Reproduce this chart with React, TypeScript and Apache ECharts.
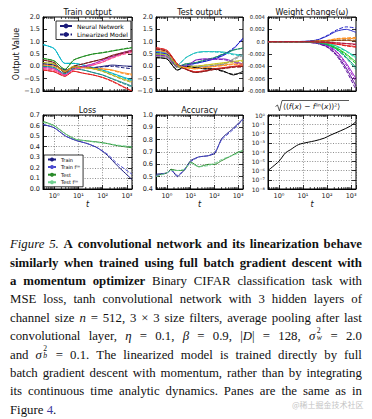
import React, { useEffect, useRef } from 'react';
import * as echarts from 'echarts';

// ---------------- data ----------------
const X_MIN = 0.35;
const X_MAX = 1600;
const X_TICK_EXP = [0, 1, 2, 3];
const X_TICK_LABELS = ['10⁰', '10¹', '10²', '10³'];
const Y_LOG_EXP = [-8, -7, -6, -5, -4, -3, -2, -1, 0];
const Y_LOG_LABELS = ['10⁻⁸', '10⁻⁷', '10⁻⁶', '10⁻⁵', '10⁻⁴', '10⁻³', '10⁻²', '10⁻¹', '10⁰'];
const MINOR_T = [0.4, 0.5, 0.6, 0.7, 0.8, 0.9, 2, 3, 4, 5, 6, 7, 8, 9, 20, 30, 40, 50, 60, 70, 80, 90, 200, 300, 400, 500, 600, 700, 800, 900];

const TITLES = ['Train output', 'Test output', 'Weight change(ω)', 'Loss', 'Accuracy'];

const T_TOP = [0.35, 1, 2.8, 6.3, 16, 40, 100, 250, 630, 1600];

const TRAIN_COLORS = ['#1a1a7a', '#00b4c8', '#1e8c1e', '#e02020', '#c030c0', '#7a1a1a', '#ff8c1a', '#b4b41e', '#1a8c8c', '#ff4a8c'];
const TRAIN_NN = [
  [0.10, 0.05, -0.15, -0.05, -0.02, -0.05, 0.00, 0.05, 0.02, 0.00],
  [0.88, 0.72, 0.12, 0.12, 0.05, -0.05, -0.15, -0.28, -0.42, -0.55],
  [0.32, 0.22, -0.12, 0.25, 0.40, 0.50, 0.55, 0.62, 0.69, 0.75],
  [-0.15, -0.22, -0.40, -0.20, -0.28, -0.35, -0.45, -0.60, -0.80, -1.00],
  [-0.05, -0.10, -0.35, -0.10, 0.00, 0.10, 0.25, 0.40, 0.55, 0.65],
  [0.25, 0.15, -0.25, 0.00, 0.10, 0.20, 0.30, 0.45, 0.55, 0.65],
  [0.05, 0.00, -0.20, -0.05, -0.05, -0.08, -0.10, -0.15, -0.25, -0.32],
  [0.15, 0.10, -0.20, 0.00, -0.05, -0.10, -0.20, -0.35, -0.50, -0.62],
  [0.00, -0.05, -0.30, -0.10, -0.15, -0.25, -0.35, -0.50, -0.65, -0.80],
  [-0.10, -0.16, -0.36, -0.14, -0.05, 0.05, 0.18, 0.35, 0.50, 0.60],
];
const TRAIN_LIN = [
  [0.10, 0.05, -0.15, -0.05, -0.02, -0.05, -0.02, 0.00, -0.05, -0.10],
  [0.88, 0.72, 0.12, 0.12, 0.05, -0.05, -0.16, -0.30, -0.45, -0.58],
  [0.32, 0.22, -0.12, 0.25, 0.40, 0.50, 0.56, 0.63, 0.70, 0.77],
  [-0.15, -0.22, -0.40, -0.20, -0.28, -0.35, -0.46, -0.62, -0.82, -1.00],
  [-0.05, -0.10, -0.35, -0.10, 0.00, 0.10, 0.24, 0.38, 0.52, 0.62],
  [0.25, 0.15, -0.25, 0.00, 0.10, 0.20, 0.29, 0.42, 0.52, 0.60],
  [0.05, 0.00, -0.20, -0.05, -0.05, -0.08, -0.11, -0.17, -0.28, -0.36],
  [0.15, 0.10, -0.20, 0.00, -0.05, -0.10, -0.21, -0.37, -0.53, -0.66],
  [0.00, -0.05, -0.30, -0.10, -0.15, -0.25, -0.36, -0.52, -0.68, -0.84],
  [-0.10, -0.16, -0.36, -0.14, -0.05, 0.05, 0.17, 0.33, 0.47, 0.56],
];

const TEST_COLORS = ['#1a1ad0', '#20c0c0', '#1a8c6a', '#000000', '#8020c0', '#e02020', '#8c1a1a', '#8c8c8c', '#c8c81e', '#ff8c1a'];
const TEST_NN = [
  [0.55, 0.50, 0.00, 0.05, 0.12, 0.20, 0.30, 0.45, 0.70, 1.15],
  [0.60, 0.55, 0.05, 0.35, 0.55, 0.60, 0.60, 0.58, 0.50, 0.45],
  [0.50, 0.45, 0.00, 0.10, 0.15, 0.25, 0.35, 0.50, 0.65, 0.75],
  [0.35, 0.30, -0.15, 0.00, -0.05, -0.10, -0.10, -0.20, -0.35, -0.20],
  [0.45, 0.40, 0.00, 0.00, 0.25, 0.30, 0.30, 0.30, 0.20, 0.10],
  [0.75, 0.65, 0.10, -0.10, -0.22, -0.18, -0.10, -0.05, 0.00, 0.05],
  [0.70, 0.60, 0.05, -0.12, -0.25, -0.20, -0.12, -0.08, -0.02, 0.00],
  [0.40, 0.35, -0.05, 0.05, 0.00, 0.00, 0.05, 0.10, 0.30, 0.50],
  [0.50, 0.45, 0.00, -0.05, 0.00, 0.05, 0.10, 0.15, 0.20, 0.25],
  [0.65, 0.55, 0.05, -0.05, -0.10, -0.05, 0.00, 0.05, 0.10, 0.10],
];
const TEST_LIN = [
  [0.55, 0.50, 0.00, 0.05, 0.12, 0.21, 0.32, 0.48, 0.74, 1.10],
  [0.60, 0.55, 0.05, 0.35, 0.54, 0.59, 0.58, 0.55, 0.47, 0.42],
  [0.50, 0.45, 0.00, 0.10, 0.15, 0.26, 0.36, 0.52, 0.67, 0.73],
  [0.35, 0.30, -0.15, 0.00, -0.05, -0.10, -0.12, -0.22, -0.32, -0.28],
  [0.45, 0.40, 0.00, 0.00, 0.24, 0.29, 0.28, 0.27, 0.17, 0.06],
  [0.75, 0.65, 0.10, -0.10, -0.22, -0.18, -0.11, -0.06, -0.02, 0.02],
  [0.70, 0.60, 0.05, -0.12, -0.25, -0.20, -0.13, -0.09, -0.04, -0.03],
  [0.40, 0.35, -0.05, 0.05, 0.00, 0.00, 0.04, 0.08, 0.26, 0.44],
  [0.50, 0.45, 0.00, -0.05, 0.00, 0.05, 0.09, 0.13, 0.17, 0.21],
  [0.65, 0.55, 0.05, -0.05, -0.10, -0.05, -0.01, 0.03, 0.07, 0.06],
];

const WEIGHT_COLORS = ['#2828c8', '#5a0a9a', '#9a14c8', '#00a07a', '#14c814', '#14c8a0', '#ff8c14', '#e01414', '#8c4614', '#b4143c'];
const WEIGHT_NN = [
  [0, 0, 0, 0.00002, 0.00008, 0.0003, 0.0009, 0.0017, 0.0020, 0.0015],
  [0, 0, 0, -0.00002, -0.0001, -0.0003, -0.0008, -0.0021, -0.0043, -0.0072],
  [0, 0, 0, -0.00001, -0.00008, -0.0002, -0.0006, -0.0016, -0.0035, -0.0060],
  [0, 0, 0, 0, -0.00005, -0.0002, -0.0005, -0.0012, -0.0025, -0.0042],
  [0, 0, 0, 0, -0.00003, -0.0001, -0.0004, -0.0010, -0.0020, -0.0033],
  [0, 0, 0, 0, -0.00002, -0.0001, -0.0003, -0.0007, -0.0015, -0.0025],
  [0, 0, 0, 0, 0.00002, 0.0001, 0.0002, 0.0004, 0.0005, 0.0005],
  [0, 0, 0, 0, -0.00002, -0.0001, -0.0002, -0.0004, -0.0006, -0.0008],
  [0, 0, 0, 0, 0.00003, 0.0001, 0.0001, 0.0002, 0.0002, 0.0001],
  [0, 0, 0, 0, 0, -0.00005, -0.0001, -0.0002, -0.0003, -0.0004],
];
const WEIGHT_LIN = [
  [0, 0, 0, 0.00002, 0.00008, 0.0003, 0.0010, 0.0019, 0.0024, 0.0022],
  [0, 0, 0, -0.00002, -0.0001, -0.0003, -0.0009, -0.0023, -0.0047, -0.0078],
  [0, 0, 0, -0.00001, -0.00008, -0.0002, -0.0007, -0.0018, -0.0038, -0.0065],
  [0, 0, 0, 0, -0.00005, -0.0002, -0.0005, -0.0013, -0.0027, -0.0045],
  [0, 0, 0, 0, -0.00003, -0.0001, -0.0004, -0.0011, -0.0022, -0.0036],
  [0, 0, 0, 0, -0.00002, -0.0001, -0.0003, -0.0008, -0.0016, -0.0027],
  [0, 0, 0, 0, 0.00002, 0.0001, 0.0002, 0.0005, 0.0006, 0.0007],
  [0, 0, 0, 0, -0.00002, -0.0001, -0.0002, -0.0004, -0.0007, -0.0009],
  [0, 0, 0, 0, 0.00003, 0.0001, 0.0001, 0.0002, 0.0003, 0.0002],
  [0, 0, 0, 0, 0, -0.00005, -0.0001, -0.0002, -0.0003, -0.0005],
];

const CURVE_NAMES = ['Train', 'Train fˡⁱⁿ', 'Test', 'Test fˡⁱⁿ'];
const CURVE_COLORS = ['#1a1a80', '#4a4ad0', '#2a8a2a', '#70d090'];

const LOSS_T = [0.35, 1, 3, 7.8, 23, 60, 155, 400, 1600];
const LOSS_TRAIN = [0.61, 0.58, 0.50, 0.46, 0.43, 0.39, 0.32, 0.22, 0.09];
const LOSS_TRAIN_LIN = [0.61, 0.58, 0.50, 0.46, 0.43, 0.39, 0.33, 0.24, 0.14];
const LOSS_TEST = [0.64, 0.60, 0.52, 0.47, 0.455, 0.445, 0.43, 0.41, 0.39];
const LOSS_TEST_LIN = [0.63, 0.60, 0.52, 0.47, 0.455, 0.44, 0.43, 0.415, 0.40];

const ACC_T = [0.35, 1, 1.5, 2.75, 5.2, 10, 22, 56, 107, 204, 525, 1000, 1600];
const ACC_TRAIN = [0.52, 0.53, 0.56, 0.50, 0.55, 0.63, 0.66, 0.67, 0.69, 0.81, 0.88, 0.93, 0.97];
const ACC_TRAIN_LIN = [0.51, 0.53, 0.55, 0.51, 0.55, 0.62, 0.66, 0.67, 0.70, 0.80, 0.87, 0.92, 0.96];
const ACC_TEST = [0.51, 0.53, 0.56, 0.55, 0.55, 0.62, 0.58, 0.60, 0.60, 0.63, 0.67, 0.70, 0.71];
const ACC_TEST_LIN = [0.50, 0.53, 0.55, 0.55, 0.56, 0.61, 0.58, 0.59, 0.61, 0.64, 0.67, 0.69, 0.72];

const SQRT_T = [0.35, 1, 1.86, 2.95, 6.5, 16.6, 31, 78, 145, 372, 933, 1600];
const SQRT_V = [1e-6, 1e-5, 8e-5, 1.7e-4, 6.3e-4, 1.15e-3, 1.6e-3, 3.2e-3, 7e-3, 2e-2, 6.3e-2, 1.9e-1];

// ---------------- layout ----------------
const FONT = 'DejaVu Sans';
const GRIDS = [
  { left: 43, top: 17, width: 89, height: 74 },
  { left: 156, top: 17, width: 87, height: 74 },
  { left: 268, top: 17, width: 88, height: 74 },
  { left: 43, top: 115, width: 89, height: 74 },
  { left: 156, top: 115, width: 87, height: 74 },
  { left: 268, top: 115, width: 88, height: 74 },
];
const Y_REF = [0.5, 0.5, 0, 0.3, 0.6, 1e-4];

function xLabel(v: number): string {
  const l = Math.log10(v);
  const e = Math.round(l);
  if (Math.abs(l - e) > 1e-6) return '';
  const idx = X_TICK_EXP.indexOf(e);
  return idx >= 0 ? X_TICK_LABELS[idx] : '';
}
function yLogLabel(v: number): string {
  const l = Math.log10(v);
  const e = Math.round(l);
  if (Math.abs(l - e) > 1e-6) return '';
  const idx = Y_LOG_EXP.indexOf(e);
  return idx >= 0 ? Y_LOG_LABELS[idx] : '';
}
function fmt1(v: number): string {
  const r = Math.round(v * 10) / 10;
  return (r < 0 ? '−' : '') + Math.abs(r).toFixed(1);
}
function fmt3(v: number): string {
  if (Math.abs(v) < 1e-9) return '0.0';
  return v.toFixed(3);
}

function buildOption(): any {
  const gridLine = { show: true, lineStyle: { type: [1, 1.6], color: '#000', width: 0.6, opacity: 0.75 } };
  const tickStyle = { color: '#000', width: 0.8 };
  const xAxis: any[] = [];
  const yAxis: any[] = [];
  GRIDS.forEach((g, i) => {
    const bottomRow = i >= 3;
    xAxis.push({
      type: 'log', logBase: 10, gridIndex: i, min: X_MIN, max: X_MAX, position: 'bottom',
      axisLine: { show: true, onZero: false, lineStyle: { color: '#000', width: 1 } },
      axisTick: { show: true, inside: true, length: 4, lineStyle: tickStyle },
      axisLabel: { show: bottomRow, formatter: xLabel, fontSize: 6.5, fontFamily: FONT, color: '#222', margin: 3 },
      splitLine: bottomRow ? gridLine : { show: false },
      name: bottomRow ? 't' : '', nameLocation: 'middle', nameGap: 11,
      nameTextStyle: { fontStyle: 'italic', fontSize: 8, fontFamily: FONT, color: '#111' },
    });
    xAxis.push({
      type: 'log', logBase: 10, gridIndex: i, min: X_MIN, max: X_MAX, position: 'top',
      axisLine: { show: false, onZero: false },
      axisTick: { show: true, inside: true, length: 4, lineStyle: tickStyle },
      axisLabel: { show: false }, splitLine: { show: false },
    });
    let yBase: any;
    if (i === 0 || i === 1) yBase = { type: 'value', min: -1, max: 2, interval: 0.5, fmt: fmt1, fs: 6.5 };
    else if (i === 2) yBase = { type: 'value', min: -0.008, max: 0.004, interval: 0.002, fmt: fmt3, fs: 5.3 };
    else if (i === 3) yBase = { type: 'value', min: 0, max: 0.7, interval: 0.1, fmt: fmt1, fs: 6.5 };
    else if (i === 4) yBase = { type: 'value', min: 0.4, max: 1.0, interval: 0.1, fmt: fmt1, fs: 6.5 };
    else yBase = { type: 'log', min: 1e-8, max: 1, fmt: yLogLabel, fs: 6 };
    const common: any = { type: yBase.type, gridIndex: i, min: yBase.min, max: yBase.max };
    if (yBase.interval) common.interval = yBase.interval;
    if (yBase.type === 'log') common.logBase = 10;
    yAxis.push({
      ...common, position: 'left',
      axisLine: { show: true, onZero: false, lineStyle: { color: '#000', width: 1 } },
      axisTick: { show: true, inside: true, length: 4, lineStyle: tickStyle },
      axisLabel: { show: true, formatter: yBase.fmt, fontSize: yBase.fs, fontFamily: FONT, color: '#222', margin: 3 },
      splitLine: bottomRow ? gridLine : { show: false },
      name: i === 0 ? 'Output Value' : '', nameLocation: 'middle', nameGap: 18, nameRotate: 90,
      nameTextStyle: { fontSize: 8, fontFamily: FONT, color: '#111' },
    });
    yAxis.push({
      ...common, position: 'right',
      axisLine: { show: false, onZero: false },
      axisTick: { show: true, inside: true, length: 4, lineStyle: tickStyle },
      axisLabel: { show: false }, splitLine: { show: false },
    });
  });

  const series: any[] = [];
  const line = (name: string, gi: number, xs: number[], ys: number[], color: string, dashed: boolean, smooth = 0.25) => ({
    type: 'line', name, xAxisIndex: 2 * gi, yAxisIndex: 2 * gi,
    data: xs.map((t, j) => [t, ys[j]]),
    symbol: 'none', showSymbol: false, smooth, silent: true,
    color,
    lineStyle: { color, width: 1, type: dashed ? [3.7, 1.6] : 'solid' },
    emphasis: { disabled: true },
    z: dashed ? 3 : 2,
  });
  const tops: [number[][], number[][], string[]][] = [
    [TRAIN_NN, TRAIN_LIN, TRAIN_COLORS],
    [TEST_NN, TEST_LIN, TEST_COLORS],
    [WEIGHT_NN, WEIGHT_LIN, WEIGHT_COLORS],
  ];
  tops.forEach(([nn, lin, cols], gi) => {
    nn.forEach((ys, k) => series.push(line('Neural Network', gi, T_TOP, ys, cols[k], false)));
  });
  tops.forEach(([nn, lin, cols], gi) => {
    lin.forEach((ys, k) => series.push(line('Linearized Model', gi, T_TOP, ys, cols[k], true)));
  });
  const lossSets = [LOSS_TRAIN, LOSS_TRAIN_LIN, LOSS_TEST, LOSS_TEST_LIN];
  const accSets = [ACC_TRAIN, ACC_TRAIN_LIN, ACC_TEST, ACC_TEST_LIN];
  lossSets.forEach((ys, k) => series.push(line(CURVE_NAMES[k], 3, LOSS_T, ys, CURVE_COLORS[k], k % 2 === 1, 0.2)));
  accSets.forEach((ys, k) => series.push(line(CURVE_NAMES[k], 4, ACC_T, ys, CURVE_COLORS[k], k % 2 === 1, 0.15)));
  series.push(line('sqrt', 5, SQRT_T, SQRT_V, '#000', false, 0.3));

  GRIDS.forEach((g, i) => {
    series.push({
      type: 'custom', xAxisIndex: 2 * i, yAxisIndex: 2 * i, silent: true, clip: false, z: 6,
      data: MINOR_T.map((t) => [t, Y_REF[i]]),
      renderItem: (params: any, api: any) => {
        const x = api.coord([api.value(0), api.value(1)])[0];
        const cs = params.coordSys;
        const yb = cs.y + cs.height;
        return {
          type: 'group',
          children: [
            { type: 'line', shape: { x1: x, y1: yb, x2: x, y2: yb - 2 }, style: { stroke: '#000', lineWidth: 0.7 } },
            { type: 'line', shape: { x1: x, y1: cs.y, x2: x, y2: cs.y + 2 }, style: { stroke: '#000', lineWidth: 0.7 } },
          ],
        };
      },
    });
  });

  const graphic: any[] = [];
  TITLES.forEach((t, i) => {
    const g = GRIDS[i];
    graphic.push({
      type: 'text', x: g.left + g.width / 2, y: g.top - 4.5, silent: true,
      style: { text: t, fontSize: 8, fontFamily: FONT, fill: '#111', align: 'center', verticalAlign: 'middle' },
    });
  });
  graphic.push({
    type: 'polyline', silent: true,
    shape: { points: [[275.5, 106.5], [277.5, 105], [279.5, 111], [282, 100.5], [349, 100.5]] },
    style: { stroke: '#111', lineWidth: 0.7, fill: null },
  });
  graphic.push({
    type: 'text', x: 283, y: 106.5, silent: true,
    style: {
      text: '{n|⟨(}{i|f}{n|(}{i|x}{n|) − }{i|f}{n|ˡⁱⁿ(}{i|x}{n|))²⟩}',
      align: 'left', verticalAlign: 'middle',
      rich: {
        n: { fontSize: 7.5, fontFamily: FONT, fill: '#111' },
        i: { fontSize: 7.5, fontFamily: FONT, fontStyle: 'italic', fill: '#111' },
      },
    },
  });

  const legendBase = {
    orient: 'vertical', borderColor: '#000', borderWidth: 0.8, backgroundColor: '#fff', borderRadius: 0,
    selectedMode: false,
  };

  return {
    animation: false,
    backgroundColor: '#fff',
    grid: GRIDS.map((g) => ({ ...g, show: true, borderColor: '#000', borderWidth: 1, containLabel: false })),
    xAxis, yAxis, series, graphic,
    legend: [
      {
        ...legendBase, data: ['Neural Network', 'Linearized Model'], left: 56, top: 21,
        itemWidth: 12, itemHeight: 6, itemGap: 2.5, padding: [2, 3, 2, 3],
        textStyle: { fontSize: 6, fontFamily: FONT, color: '#000' },
      },
      {
        ...legendBase, data: CURVE_NAMES, left: 44, top: 155,
        itemWidth: 8, itemHeight: 5, itemGap: 2.6, padding: [2, 3, 2, 3],
        textStyle: { fontSize: 5, fontFamily: FONT, color: '#000' },
      },
    ],
  };
}

// ---------------- caption ----------------
type Tok = { t: string; s: 'p' | 'b' | 'i' | 'sig' | 'D' };
const P = (s: string): Tok[] => s.split(' ').map((t) => ({ t, s: 'p' }));
const B = (s: string): Tok[] => s.split(' ').map((t) => ({ t, s: 'b' }));
const I = (s: string): Tok[] => s.split(' ').map((t) => ({ t, s: 'i' }));

const CAPTION_LINES: Tok[][] = [
  [...I('Figure 5.'), ...B('A convolutional network and its linearization behave')],
  [...B('similarly when trained using full batch gradient descent with')],
  [...B('a momentum optimizer'), ...P('Binary CIFAR classification task with')],
  [...P('MSE loss, tanh convolutional network with 3 hidden layers of')],
  [...P('channel size'), ...I('n'), ...P('= 512, 3 × 3 size filters, average pooling after last')],
  [...P('convolutional layer,'), ...I('η'), ...P('= 0.1,'), ...I('β'), ...P('= 0.9,'), { t: '', s: 'D' }, ...P('= 128,'), { t: 'w', s: 'sig' }, ...P('= 2.0')],
  [...P('and'), { t: 'b', s: 'sig' }, ...P('= 0.1. The linearized model is trained directly by full')],
  [...P('batch gradient descent with momentum, rather than by integrating')],
  [...P('its continuous time analytic dynamics. Panes are the same as in')],
];

function renderTok(tok: Tok, k: number) {
  if (tok.s === 'sig') {
    return (
      <span key={k} style={{ whiteSpace: 'nowrap' }}>
        <i>σ</i>
        <span style={{ display: 'inline-block', position: 'relative', width: '0.42em', height: '1em', marginLeft: 1.5 }}>
          <span style={{ position: 'absolute', left: 0, top: '-0.06em', fontSize: '0.6em', lineHeight: 1 }}>2</span>
          <span style={{ position: 'absolute', left: 0, top: '0.8em', fontSize: '0.6em', lineHeight: 1, fontStyle: 'italic' }}>{tok.t}</span>
        </span>
      </span>
    );
  }
  if (tok.s === 'D') {
    return <span key={k}>|<i>D</i>|</span>;
  }
  return (
    <span key={k} style={{ fontWeight: tok.s === 'b' ? 700 : 400, fontStyle: tok.s === 'i' ? 'italic' : 'normal' }}>
      {tok.t}
    </span>
  );
}

const CAP_TOP = 244.4;
const CAP_STEP = 18.4;

export default function App() {
  const ref = useRef<HTMLDivElement>(null);
  useEffect(() => {
    const chart = echarts.init(ref.current as HTMLDivElement, null, { renderer: 'svg' });
    chart.setOption(buildOption());
    return () => chart.dispose();
  }, []);
  const capFont = { fontFamily: "'Liberation Serif', 'Times New Roman', serif", fontSize: 12.8, color: '#111' };
  return (
    <div style={{ position: 'fixed', left: 0, top: 0, width: 372, height: 419, background: '#fff', overflow: 'hidden' }}>
      <div ref={ref} style={{ position: 'absolute', left: 0, top: 0, width: 372, height: 230 }} />
      {CAPTION_LINES.map((toks, li) => (
        <div
          key={li}
          style={{
            ...capFont, position: 'absolute', left: 10, width: 352, top: CAP_TOP + li * CAP_STEP - 9.2, height: 18.4,
            lineHeight: '18.4px', display: 'flex', justifyContent: 'space-between', alignItems: 'baseline', whiteSpace: 'nowrap',
          }}
        >
          {toks.map((t, k) => renderTok(t, k))}
        </div>
      ))}
      <div style={{ ...capFont, position: 'absolute', left: 10, top: CAP_TOP + 9 * CAP_STEP - 9.2, height: 18.4, lineHeight: '18.4px', whiteSpace: 'nowrap' }}>
        Figure <span style={{ color: '#3a3aa0' }}>4</span>.
      </div>
      <span style={{ position: 'absolute', left: 292, top: 399, fontSize: 8, color: '#c4c4c4', fontFamily: "'Noto Sans CJK SC', sans-serif", whiteSpace: 'nowrap' }}>
        @稀土掘金技术社区
      </span>
    </div>
  );
}
